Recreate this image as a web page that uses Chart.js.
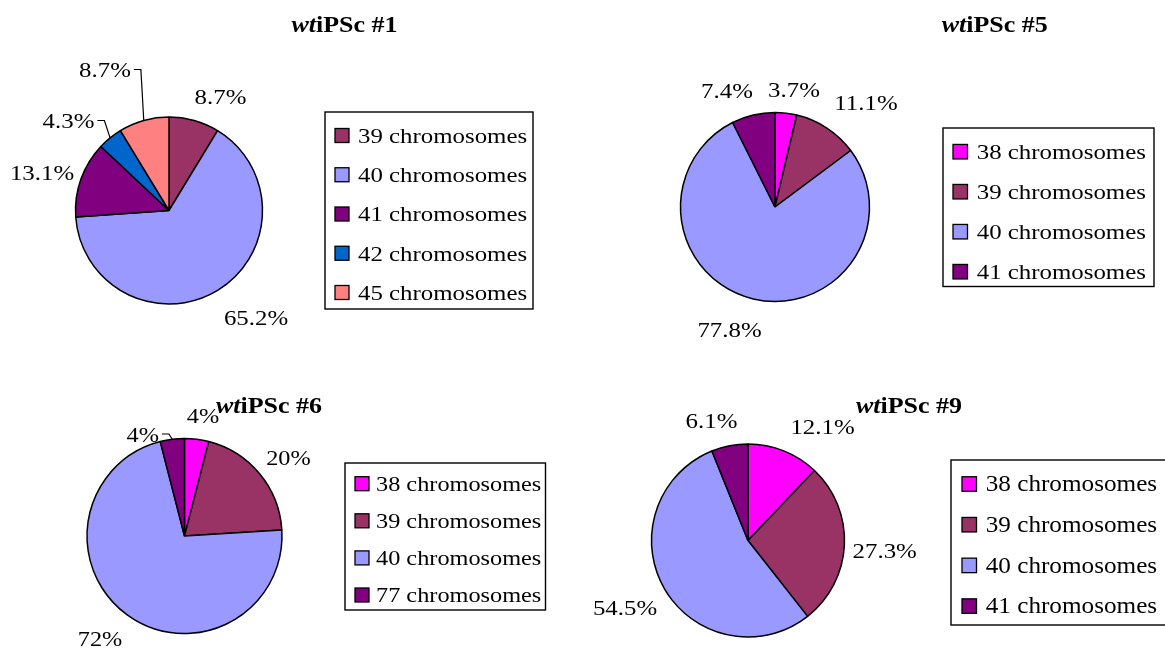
<!DOCTYPE html>
<html>
<head>
<meta charset="utf-8">
<title>wtiPSc karyotypes</title>
<script src="https://cdn.jsdelivr.net/npm/chart.js@4.4.0/dist/chart.umd.min.js"></script>
<style>
  html, body { margin: 0; padding: 0; background: #ffffff; }
  #wrap { position: relative; width: 1165px; height: 649px; overflow: hidden; background: #ffffff; }
  #wrap canvas { position: absolute; left: 0; top: 0; }
</style>
</head>
<body>
<div id="wrap">
  <canvas id="clone1" width="1165" height="649"></canvas>
  <canvas id="clone5" width="1165" height="649"></canvas>
  <canvas id="clone6" width="1165" height="649"></canvas>
  <canvas id="clone9" width="1165" height="649"></canvas>
</div>
<script>
// Chromosome-count distribution (% of metaphases) for each wt iPS clone
const clone1Names  = ['39 chromosomes', '40 chromosomes', '41 chromosomes', '42 chromosomes', '45 chromosomes'];
const clone1Values = [8.7, 65.2, 13.1, 4.3, 8.7];

const clone5Names  = ['38 chromosomes', '39 chromosomes', '40 chromosomes', '41 chromosomes'];
const clone5Values = [3.7, 11.1, 77.8, 7.4];

const clone6Names  = ['38 chromosomes', '39 chromosomes', '40 chromosomes', '77 chromosomes'];
const clone6Values = [4, 20, 72, 4];

const clone9Names  = ['38 chromosomes', '39 chromosomes', '40 chromosomes', '41 chromosomes'];
const clone9Values = [12.1, 27.3, 54.5, 6.1];

const cloneIds = ['#1', '#5', '#6', '#9'];

// Fill colour for each chromosome count
const countColors = {
  '38': '#FF00FF',
  '39': '#993366',
  '40': '#9999FF',
  '41': '#800080',
  '42': '#0066CC',
  '45': '#FF8080',
  '77': '#800080'
};
const colorFor = name => countColors[name.split(' ')[0]];

const W = 1165, H = 649;
const SERIF = '"Liberation Serif", "Times New Roman", serif';
const STRETCH = 1.13;          // horizontal widening of all text
const fmtPct = v => `${v}%`;

// Placement of each panel: pie centre/radius, value-label offsets, legend box, title
const panels = [
  { id: 'clone1', title: cloneIds[0], names: clone1Names, values: clone1Values,
    cx: 169, cy: 210.5, r: 93.5, titleX: 344.5, titleY: 32,
    labelOffsets: [[51.5, -106.5], [87, 114.5], [-127, -30.5], [-100.5, -82.5], [-64, -133.5]],
    leaders: [false, false, false, true, true], labelSize: 22,
    legend: { x: 325, y: 112, w: 208, h: 197, sx: 335, ss: 14, row0: 135.5, step: 39.25, tx: 358, size: 22 } },
  { id: 'clone5', title: cloneIds[1], names: clone5Names, values: clone5Values,
    cx: 775, cy: 207, r: 94.5, titleX: 994.7, titleY: 31.7,
    labelOffsets: [[19, -110], [91, -97], [-45.5, 129.5], [-48, -109.5]],
    leaders: [false, false, false, false], labelSize: 22,
    legend: { x: 943, y: 128, w: 211, h: 158.5, sx: 953, ss: 14.5, row0: 151.7, step: 40, tx: 976.7, size: 22 } },
  { id: 'clone6', title: cloneIds[2], names: clone6Names, values: clone6Values,
    cx: 184.5, cy: 536, r: 97.5, titleX: 269, titleY: 413,
    labelOffsets: [[18.5, -113], [103.9, -71], [-84.5, 110], [-41.8, -94.5]],
    leaders: [false, false, false, true], labelSize: 21.5,
    legend: { x: 345, y: 463, w: 200.5, h: 147, sx: 355, ss: 14, row0: 483.7, step: 37.1, tx: 376, size: 21.5 } },
  { id: 'clone9', title: cloneIds[3], names: clone9Names, values: clone9Values,
    cx: 748, cy: 540.5, r: 96.5, titleX: 909, titleY: 413,
    labelOffsets: [[74.5, -106.5], [136.7, 17.5], [-123, 74.5], [-36.5, -112.5]],
    leaders: [false, false, false, false], labelSize: 22,
    legend: { x: 951, y: 460, w: 222, h: 165, sx: 962, ss: 14.5, row0: 484, step: 40.7, tx: 985.7, size: 22.3 } }
];

// Draws text widened by STRETCH; returns drawn width
function drawText(ctx, text, x, y, font, align) {
  ctx.font = font;
  const w = ctx.measureText(text).width * STRETCH;
  const left = align === 'center' ? x - w / 2 : x;
  ctx.save();
  ctx.translate(left, y);
  ctx.scale(STRETCH, 1);
  ctx.textAlign = 'left';
  ctx.textBaseline = 'alphabetic';
  ctx.fillText(text, 0, 0);
  ctx.restore();
  return w;
}

function makeDecor(panel) {
  return {
    id: 'panelDecor',
    afterDatasetsDraw(chart) {
      const ctx = chart.ctx;
      const arcs = chart.getDatasetMeta(0).data;
      ctx.save();
      ctx.fillStyle = '#000';

      // value labels (with leader lines for the moved ones)
      const labelFont = `${panel.labelSize}px ${SERIF}`;
      panel.values.forEach((v, i) => {
        const arc = arcs[i];
        const [dx, dy] = panel.labelOffsets[i];
        const lx = arc.x + dx, ly = arc.y + dy;
        const w = drawText(ctx, fmtPct(v), lx, ly, labelFont, 'center');
        if (panel.leaders[i]) {
          const mid = (arc.startAngle + arc.endAngle) / 2;
          const ex = arc.x + Math.cos(mid) * arc.outerRadius;
          const ey = arc.y + Math.sin(mid) * arc.outerRadius;
          const sx = lx + w / 2 + 3, sy = ly - 7.5;
          ctx.beginPath();
          ctx.moveTo(sx, sy);
          ctx.lineTo(sx + 7, sy);
          ctx.lineTo(ex, ey);
          ctx.lineWidth = 1.2;
          ctx.strokeStyle = '#000';
          ctx.stroke();
        }
      });

      // legend box
      const L = panel.legend;
      ctx.lineWidth = 1.4;
      ctx.strokeStyle = '#000';
      ctx.strokeRect(L.x, L.y, L.w, L.h);
      const legendFont = `${L.size}px ${SERIF}`;
      panel.names.forEach((name, i) => {
        const yc = L.row0 + i * L.step;
        ctx.fillStyle = colorFor(name);
        ctx.fillRect(L.sx, yc - L.ss / 2, L.ss, L.ss);
        ctx.lineWidth = 1.3;
        ctx.strokeRect(L.sx, yc - L.ss / 2, L.ss, L.ss);
        ctx.fillStyle = '#000';
        drawText(ctx, name, L.tx, yc + L.size * 0.33, legendFont, 'left');
      });

      // title: italic "wt" followed by bold "iPSc #n"
      const fItal = `italic bold 23px ${SERIF}`;
      const fBold = `bold 23px ${SERIF}`;
      const rest = `iPSc ${panel.title}`;
      ctx.font = fItal;
      const w1 = ctx.measureText('wt').width * STRETCH;
      ctx.font = fBold;
      const w2 = ctx.measureText(rest).width * STRETCH;
      const x0 = panel.titleX - (w1 + w2) / 2;
      ctx.fillStyle = '#000';
      drawText(ctx, 'wt', x0, panel.titleY, fItal, 'left');
      drawText(ctx, rest, x0 + w1, panel.titleY, fBold, 'left');

      ctx.restore();
    }
  };
}

const HALF = 100;
panels.forEach(panel => {
  new Chart(document.getElementById(panel.id), {
    type: 'pie',
    data: {
      labels: panel.names,
      datasets: [{
        data: panel.values,
        backgroundColor: panel.names.map(colorFor),
        borderColor: '#000000',
        borderWidth: 1.5,
        radius: panel.r
      }]
    },
    options: {
      responsive: false,
      animation: false,
      events: [],
      devicePixelRatio: 1,
      layout: {
        padding: {
          left: panel.cx - HALF,
          right: W - panel.cx - HALF,
          top: panel.cy - HALF,
          bottom: H - panel.cy - HALF
        }
      },
      plugins: {
        legend: { display: false },
        tooltip: { enabled: false },
        title: { display: false }
      }
    },
    plugins: [makeDecor(panel)]
  });
});
</script>
</body>
</html>
